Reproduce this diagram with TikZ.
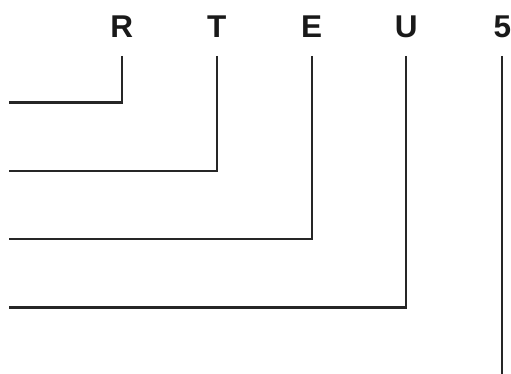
\documentclass[tikz,border=0pt]{standalone}
\usepackage{fontspec}
\setmainfont{Liberation Sans}
\begin{document}
\begin{tikzpicture}[x=1pt,y=-1pt,
  lab/.style={font=\fontsize{31.5}{31.5}\selectfont\bfseries, text=black!90, inner sep=0pt, anchor=base},
  wire/.style={line width=2.4pt, draw=black!85, line cap=butt, line join=miter}]
\useasboundingbox (0,0) rectangle (511,374);
\node[lab] (R) at (121.8,37.3) {R};
\node[lab] (T) at (216.7,37.3) {T};
\node[lab] (E) at (311.7,37.3) {E};
\node[lab] (U) at (406.2,37.3) {U};
\node[lab] (F) at (502.5,37.3) {5};
\coordinate (eR) at (8.5,102.5);
\coordinate (eT) at (8.5,171);
\coordinate (eE) at (8.5,239);
\coordinate (eU) at (8.5,307.3);
\coordinate (eF) at (501.7,374);
\draw[wire] ([yshift=-18.7pt]R.base) |- (eR);
\draw[wire] ([yshift=-18.7pt]T.base) |- (eT);
\draw[wire] ([yshift=-18.7pt]E.base) |- (eE);
\draw[wire] ([yshift=-18.7pt]U.base) |- (eU);
\draw[wire] ([yshift=-18.7pt,xshift=-0.8pt]F.base) -- (eF);
\end{tikzpicture}
\end{document}
